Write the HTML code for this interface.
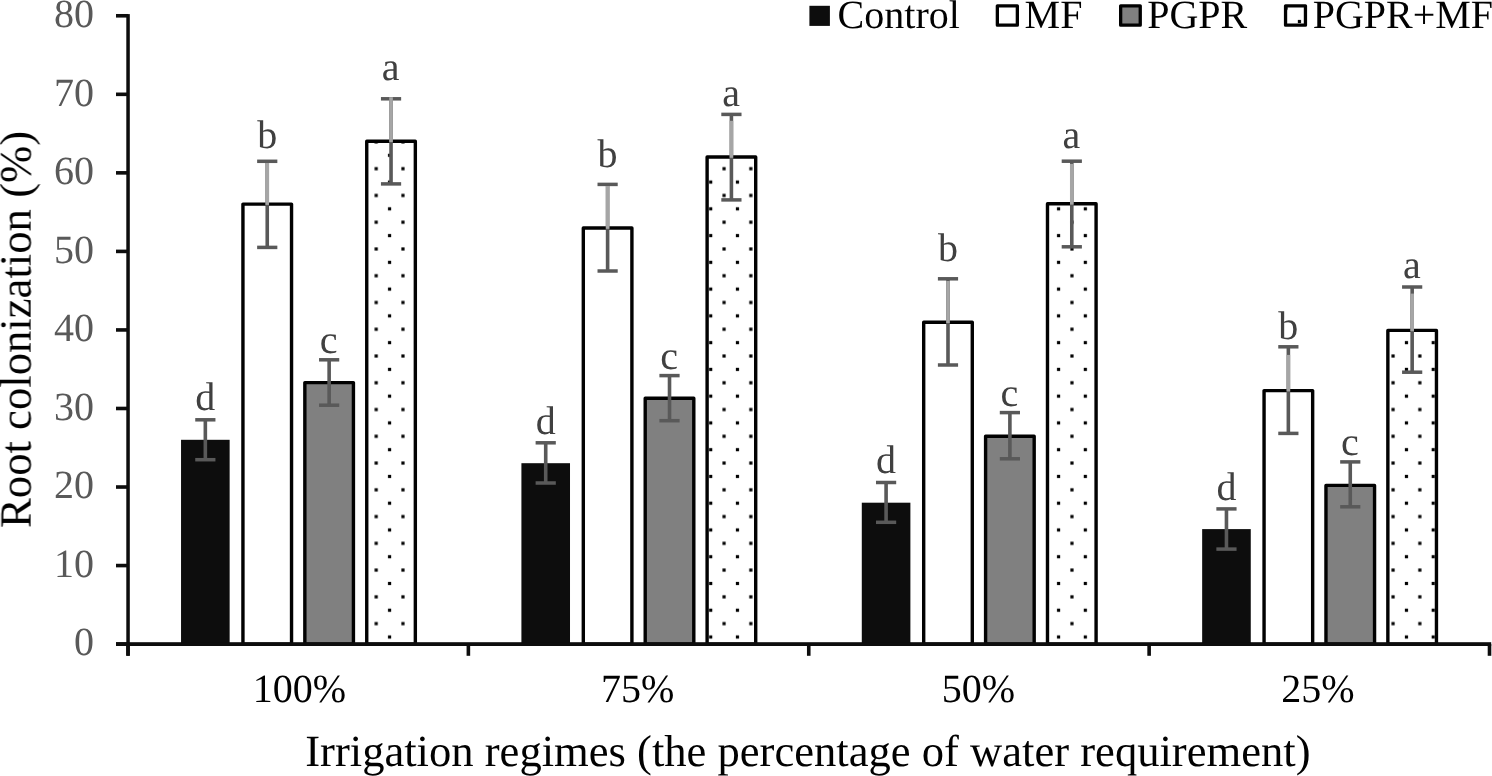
<!DOCTYPE html><html><head><meta charset="utf-8"><style>html,body{margin:0;padding:0;background:#fff;}svg{display:block;text-rendering:geometricPrecision}</style></head><body>
<svg width="1492" height="776" viewBox="0 0 1492 776" font-family="'Liberation Serif', serif">
<defs><pattern id="dots" patternUnits="userSpaceOnUse" x="1.56" y="8.14" width="26.76" height="26.76">
<rect x="-1.60" y="-1.60" width="3.20" height="3.20" fill="#000"/>
<rect x="25.16" y="-1.60" width="3.20" height="3.20" fill="#000"/>
<rect x="-1.60" y="25.16" width="3.20" height="3.20" fill="#000"/>
<rect x="25.16" y="25.16" width="3.20" height="3.20" fill="#000"/>
<rect x="11.78" y="11.78" width="3.20" height="3.20" fill="#000"/>
</pattern></defs>
<rect width="1492" height="776" fill="#fff"/>
<g opacity="0.999">
<rect x="181.04" y="439.80" width="48.60" height="204.30" fill="#0d0d0d"/>
<rect x="242.94" y="204.10" width="48.60" height="440.00" fill="#fff" stroke="#000" stroke-width="3.4" stroke-linejoin="round"/>
<rect x="304.84" y="382.60" width="48.60" height="261.50" fill="#808080" stroke="#000" stroke-width="3.4" stroke-linejoin="round"/>
<rect x="366.74" y="141.30" width="48.60" height="502.80" fill="url(#dots)" stroke="#000" stroke-width="3.4" stroke-linejoin="round"/>
<rect x="521.41" y="463.20" width="48.60" height="180.90" fill="#0d0d0d"/>
<rect x="583.31" y="228.00" width="48.60" height="416.10" fill="#fff" stroke="#000" stroke-width="3.4" stroke-linejoin="round"/>
<rect x="645.21" y="398.30" width="48.60" height="245.80" fill="#808080" stroke="#000" stroke-width="3.4" stroke-linejoin="round"/>
<rect x="707.11" y="157.00" width="48.60" height="487.10" fill="url(#dots)" stroke="#000" stroke-width="3.4" stroke-linejoin="round"/>
<rect x="861.79" y="502.70" width="48.60" height="141.40" fill="#0d0d0d"/>
<rect x="923.69" y="322.30" width="48.60" height="321.80" fill="#fff" stroke="#000" stroke-width="3.4" stroke-linejoin="round"/>
<rect x="985.59" y="436.30" width="48.60" height="207.80" fill="#808080" stroke="#000" stroke-width="3.4" stroke-linejoin="round"/>
<rect x="1047.49" y="203.80" width="48.60" height="440.30" fill="url(#dots)" stroke="#000" stroke-width="3.4" stroke-linejoin="round"/>
<rect x="1202.16" y="529.10" width="48.60" height="115.00" fill="#0d0d0d"/>
<rect x="1264.06" y="390.60" width="48.60" height="253.50" fill="#fff" stroke="#000" stroke-width="3.4" stroke-linejoin="round"/>
<rect x="1325.96" y="485.40" width="48.60" height="158.70" fill="#808080" stroke="#000" stroke-width="3.4" stroke-linejoin="round"/>
<rect x="1387.86" y="330.40" width="48.60" height="313.70" fill="url(#dots)" stroke="#000" stroke-width="3.4" stroke-linejoin="round"/>
<rect x="126.3" y="14.1" width="3.5" height="641.6" fill="#0d0d0d"/>
<rect x="116" y="13.98" width="12" height="3.6" fill="#0d0d0d"/>
<rect x="116" y="92.52" width="12" height="3.6" fill="#0d0d0d"/>
<rect x="116" y="171.06" width="12" height="3.6" fill="#0d0d0d"/>
<rect x="116" y="249.60" width="12" height="3.6" fill="#0d0d0d"/>
<rect x="116" y="328.14" width="12" height="3.6" fill="#0d0d0d"/>
<rect x="116" y="406.68" width="12" height="3.6" fill="#0d0d0d"/>
<rect x="116" y="485.22" width="12" height="3.6" fill="#0d0d0d"/>
<rect x="116" y="563.76" width="12" height="3.6" fill="#0d0d0d"/>
<rect x="116" y="642.30" width="12" height="3.6" fill="#0d0d0d"/>
<rect x="116" y="642.20" width="1375.2" height="3.8" fill="#0d0d0d"/>
<rect x="126.20" y="644.10" width="3.6" height="11.70" fill="#0d0d0d"/>
<rect x="466.57" y="644.10" width="3.6" height="11.70" fill="#0d0d0d"/>
<rect x="806.95" y="644.10" width="3.6" height="11.70" fill="#0d0d0d"/>
<rect x="1147.33" y="644.10" width="3.6" height="11.70" fill="#0d0d0d"/>
<rect x="1487.70" y="644.10" width="3.6" height="11.70" fill="#0d0d0d"/>
<rect x="203.54" y="419.80" width="3.60" height="39.90" fill="#595959"/>
<rect x="195.24" y="418.05" width="20.2" height="3.5" fill="#595959"/>
<rect x="195.24" y="457.95" width="20.2" height="3.5" fill="#595959"/>
<rect x="265.44" y="161.30" width="3.60" height="86.10" fill="#595959"/>
<rect x="257.14" y="159.55" width="20.2" height="3.5" fill="#595959"/>
<rect x="257.14" y="245.65" width="20.2" height="3.5" fill="#595959"/>
<rect x="265.44" y="163.00" width="3.60" height="41.90" fill="#a6a6a6"/>
<rect x="327.34" y="359.80" width="3.60" height="45.40" fill="#595959"/>
<rect x="319.04" y="358.05" width="20.2" height="3.5" fill="#595959"/>
<rect x="319.04" y="403.45" width="20.2" height="3.5" fill="#595959"/>
<rect x="389.24" y="98.80" width="3.60" height="85.10" fill="#595959"/>
<rect x="380.94" y="97.05" width="20.2" height="3.5" fill="#595959"/>
<rect x="380.94" y="182.15" width="20.2" height="3.5" fill="#595959"/>
<rect x="389.24" y="97.20" width="3.60" height="44.90" fill="#a6a6a6"/>
<rect x="543.91" y="442.80" width="3.60" height="40.20" fill="#595959"/>
<rect x="535.61" y="441.05" width="20.2" height="3.5" fill="#595959"/>
<rect x="535.61" y="481.25" width="20.2" height="3.5" fill="#595959"/>
<rect x="605.81" y="184.40" width="3.60" height="86.60" fill="#595959"/>
<rect x="597.51" y="182.65" width="20.2" height="3.5" fill="#595959"/>
<rect x="597.51" y="269.25" width="20.2" height="3.5" fill="#595959"/>
<rect x="605.81" y="186.00" width="3.60" height="42.80" fill="#a6a6a6"/>
<rect x="667.71" y="375.60" width="3.60" height="45.10" fill="#595959"/>
<rect x="659.41" y="373.85" width="20.2" height="3.5" fill="#595959"/>
<rect x="659.41" y="418.95" width="20.2" height="3.5" fill="#595959"/>
<rect x="729.61" y="114.40" width="3.60" height="85.50" fill="#595959"/>
<rect x="721.31" y="112.65" width="20.2" height="3.5" fill="#595959"/>
<rect x="721.31" y="198.15" width="20.2" height="3.5" fill="#595959"/>
<rect x="729.61" y="120.80" width="3.60" height="37.00" fill="#a6a6a6"/>
<rect x="884.29" y="482.50" width="3.60" height="39.80" fill="#595959"/>
<rect x="875.99" y="480.75" width="20.2" height="3.5" fill="#595959"/>
<rect x="875.99" y="520.55" width="20.2" height="3.5" fill="#595959"/>
<rect x="946.19" y="278.80" width="3.60" height="86.20" fill="#595959"/>
<rect x="937.89" y="277.05" width="20.2" height="3.5" fill="#595959"/>
<rect x="937.89" y="363.25" width="20.2" height="3.5" fill="#595959"/>
<rect x="946.19" y="281.00" width="3.60" height="42.10" fill="#a6a6a6"/>
<rect x="1008.09" y="412.60" width="3.60" height="46.20" fill="#595959"/>
<rect x="999.79" y="410.85" width="20.2" height="3.5" fill="#595959"/>
<rect x="999.79" y="457.05" width="20.2" height="3.5" fill="#595959"/>
<rect x="1069.99" y="161.20" width="3.60" height="85.60" fill="#595959"/>
<rect x="1061.69" y="159.45" width="20.2" height="3.5" fill="#595959"/>
<rect x="1061.69" y="245.05" width="20.2" height="3.5" fill="#595959"/>
<rect x="1069.99" y="163.90" width="3.60" height="40.70" fill="#a6a6a6"/>
<rect x="1224.66" y="508.90" width="3.60" height="40.20" fill="#595959"/>
<rect x="1216.36" y="507.15" width="20.2" height="3.5" fill="#595959"/>
<rect x="1216.36" y="547.35" width="20.2" height="3.5" fill="#595959"/>
<rect x="1286.56" y="346.80" width="3.60" height="86.60" fill="#595959"/>
<rect x="1278.26" y="345.05" width="20.2" height="3.5" fill="#595959"/>
<rect x="1278.26" y="431.65" width="20.2" height="3.5" fill="#595959"/>
<rect x="1286.56" y="354.90" width="3.60" height="36.50" fill="#a6a6a6"/>
<rect x="1348.46" y="461.90" width="3.60" height="44.90" fill="#595959"/>
<rect x="1340.16" y="460.15" width="20.2" height="3.5" fill="#595959"/>
<rect x="1340.16" y="505.05" width="20.2" height="3.5" fill="#595959"/>
<rect x="1410.36" y="287.00" width="3.60" height="85.20" fill="#595959"/>
<rect x="1402.06" y="285.25" width="20.2" height="3.5" fill="#595959"/>
<rect x="1402.06" y="370.45" width="20.2" height="3.5" fill="#595959"/>
<rect x="1410.36" y="293.60" width="3.60" height="37.60" fill="#a6a6a6"/>
<text x="205.34" y="410.10" font-size="40" fill="#404040" text-anchor="middle">d</text>
<text x="267.24" y="147.50" font-size="40" fill="#404040" text-anchor="middle">b</text>
<text x="328.74" y="352.80" font-size="40" fill="#404040" text-anchor="middle">c</text>
<text x="390.64" y="80.40" font-size="40" fill="#404040" text-anchor="middle">a</text>
<text x="545.71" y="433.90" font-size="40" fill="#404040" text-anchor="middle">d</text>
<text x="607.61" y="166.80" font-size="40" fill="#404040" text-anchor="middle">b</text>
<text x="669.11" y="368.80" font-size="40" fill="#404040" text-anchor="middle">c</text>
<text x="731.01" y="105.60" font-size="40" fill="#404040" text-anchor="middle">a</text>
<text x="886.09" y="473.00" font-size="40" fill="#404040" text-anchor="middle">d</text>
<text x="947.99" y="260.80" font-size="40" fill="#404040" text-anchor="middle">b</text>
<text x="1009.49" y="406.00" font-size="40" fill="#404040" text-anchor="middle">c</text>
<text x="1071.39" y="148.10" font-size="40" fill="#404040" text-anchor="middle">a</text>
<text x="1226.46" y="499.80" font-size="40" fill="#404040" text-anchor="middle">d</text>
<text x="1288.36" y="338.60" font-size="40" fill="#404040" text-anchor="middle">b</text>
<text x="1349.86" y="454.50" font-size="40" fill="#404040" text-anchor="middle">c</text>
<text x="1411.76" y="278.00" font-size="40" fill="#404040" text-anchor="middle">a</text>
<text x="94" y="27.08" font-size="40" fill="#595959" text-anchor="end">80</text>
<text x="94" y="105.62" font-size="40" fill="#595959" text-anchor="end">70</text>
<text x="94" y="184.16" font-size="40" fill="#595959" text-anchor="end">60</text>
<text x="94" y="262.70" font-size="40" fill="#595959" text-anchor="end">50</text>
<text x="94" y="341.24" font-size="40" fill="#595959" text-anchor="end">40</text>
<text x="94" y="419.78" font-size="40" fill="#595959" text-anchor="end">30</text>
<text x="94" y="498.32" font-size="40" fill="#595959" text-anchor="end">20</text>
<text x="94" y="576.86" font-size="40" fill="#595959" text-anchor="end">10</text>
<text x="94" y="655.40" font-size="40" fill="#595959" text-anchor="end">0</text>
<text x="299.30" y="701.8" font-size="40" fill="#000" text-anchor="middle">100%</text>
<text x="637.70" y="701.8" font-size="40" fill="#000" text-anchor="middle">75%</text>
<text x="978.40" y="701.8" font-size="40" fill="#000" text-anchor="middle">50%</text>
<text x="1318.00" y="701.8" font-size="40" fill="#000" text-anchor="middle">25%</text>
<text x="305.2" y="766" font-size="44.6" fill="#000">Irrigation regimes (the percentage of water requirement)</text>
<text transform="translate(30.6,528) rotate(-90)" x="0" y="0" font-size="44.7" fill="#000">Root colonization (%)</text>
<rect x="809.4" y="5.8" width="20.5" height="20.1" fill="#0d0d0d"/>
<text x="837.6" y="28" font-size="40" fill="#000">Control</text>
<rect x="997.35" y="5.85" width="20.00" height="19.30" fill="#fff" stroke="#000" stroke-width="3.3" stroke-linejoin="round"/>
<text x="1024.6" y="28" font-size="40" fill="#000">MF</text>
<rect x="1120.65" y="5.85" width="19.60" height="19.30" fill="#808080" stroke="#000" stroke-width="3.3" stroke-linejoin="round"/>
<text x="1147.2" y="28" font-size="40" fill="#000">PGPR</text>
<rect x="1285.55" y="5.85" width="19.90" height="19.30" fill="url(#dots)" stroke="#000" stroke-width="3.3" stroke-linejoin="round"/>
<text x="1312.7" y="28" font-size="40" fill="#000">PGPR+MF</text>
</g>
</svg></body></html>
